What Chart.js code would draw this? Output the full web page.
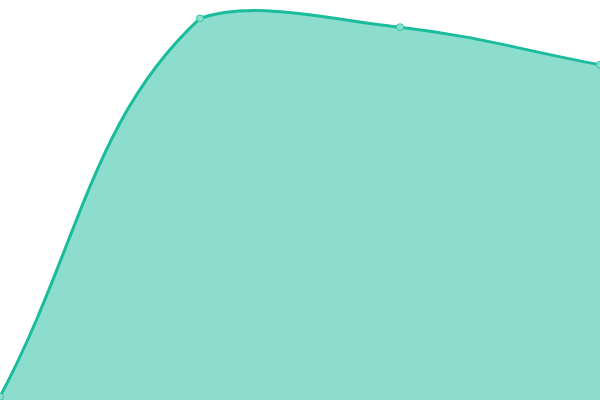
<!DOCTYPE html>
<html>
<head>
<meta charset="utf-8">
<script src="https://cdn.jsdelivr.net/npm/chart.js@4"></script>
<style>
  html, body { margin: 0; padding: 0; background: #fff; }
  #wrap { width: 600px; height: 400px; }
</style>
</head>
<body>
<div id="wrap"><canvas id="myChart"></canvas></div>
<script>
const labels = ['A', 'B', 'C', 'D'];
const values = [0.8, 95.4, 93.2, 83.8];

const ctx = document.getElementById('myChart').getContext('2d');
const myChart = new Chart(ctx, {
    type: 'line',
    data: {
        labels: labels,
        datasets: [{
            data: values,
            borderColor: '#1abc9c',
            backgroundColor: 'rgba(26, 188, 156, 0.5)',
            pointBackgroundColor: '#8ce0cf',
            pointBorderColor: '#2ec4a5',
            pointBorderWidth: 1,
            pointRadius: 3.5,
            borderWidth: 3,
            tension: 0.4,
            fill: 'origin'
        }]
    },
    options: {
        responsive: true,
        maintainAspectRatio: false,
        animation: false,
        layout: { padding: 0, autoPadding: false },
        plugins: {
            legend: { display: false },
            tooltip: { enabled: false }
        },
        scales: {
            x: { display: false },
            y: { display: false, min: 0, max: 100 }
        }
    }
});
</script>
</body>
</html>
